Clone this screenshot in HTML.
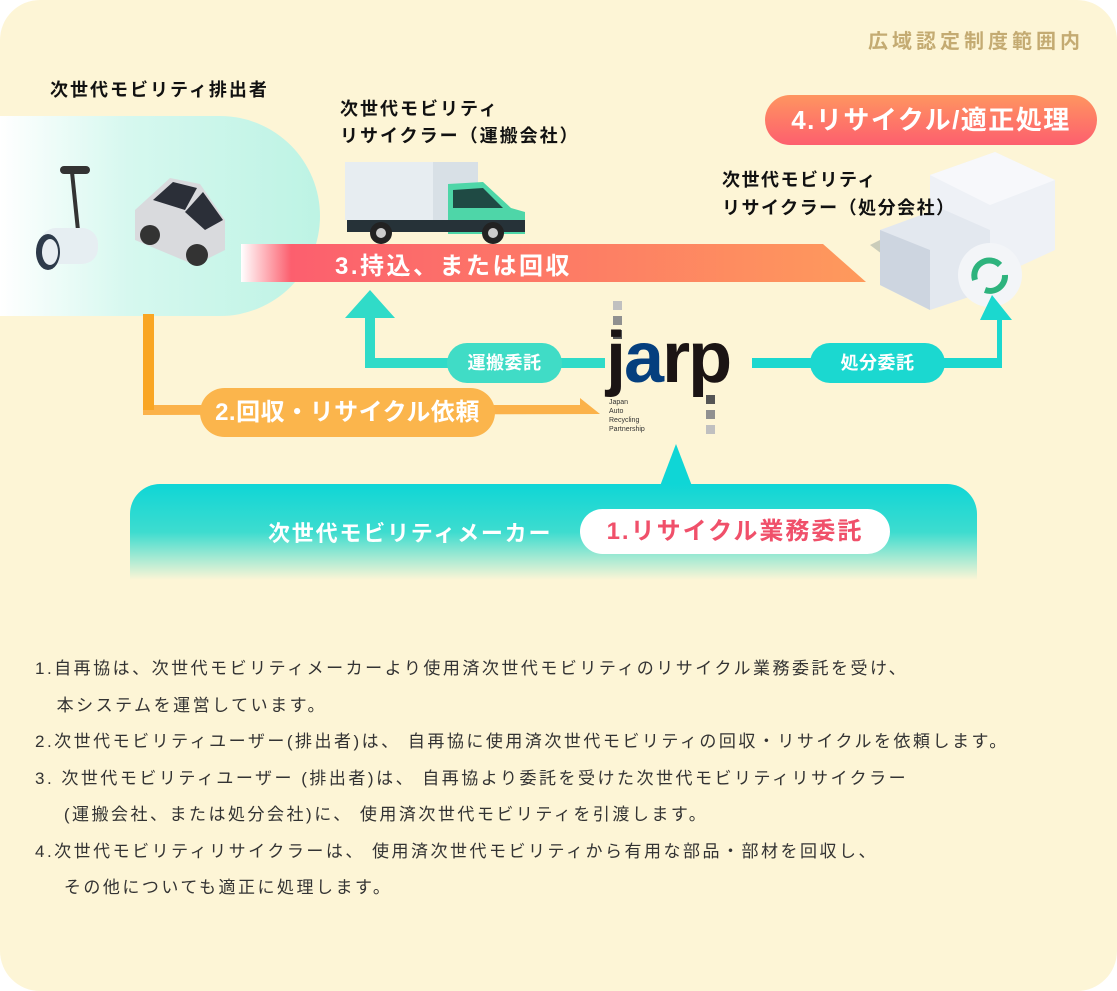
<!DOCTYPE html>
<html><head><meta charset="utf-8"><style>
*{margin:0;padding:0;box-sizing:border-box}
body{width:1117px;height:991px;background:#fff;font-family:"Liberation Sans","Noto Sans CJK JP",sans-serif;position:relative;overflow:hidden}
.a{position:absolute}
.bg{left:0;top:0;width:1117px;height:991px;background:#fdf5d6;border-radius:40px}
.b{font-weight:bold}
.pill{position:absolute;border-radius:30px;color:#fff;font-weight:bold;text-align:center;white-space:nowrap}
.notes{left:35px;top:651px;font-size:17px;color:#333;line-height:36.5px;letter-spacing:2.5px;white-space:nowrap}
</style></head><body>
<div class="a bg"></div>
<div class="a b" style="left:868px;top:25px;font-size:20px;color:#c4ab72;letter-spacing:4px">広域認定制度範囲内</div>
<div class="a b" style="left:50px;top:76px;font-size:18px;color:#111;letter-spacing:2px">次世代モビリティ排出者</div>
<div class="a" style="left:0;top:116px;width:320px;height:200px;border-radius:0 100px 100px 0;background:linear-gradient(90deg,#fff 0%,#d6f8ef 40%,#bdf3e4 100%)"></div>
<svg class="a" style="left:30px;top:160px" width="80" height="120"><rect x="30" y="6" width="30" height="8" rx="4" fill="#333"/><line x1="42" y1="12" x2="50" y2="90" stroke="#333" stroke-width="4"/><rect x="10" y="68" width="58" height="36" rx="16" fill="#e6eef2"/><ellipse cx="18" cy="92" rx="12" ry="18" fill="#2d3a4a"/><ellipse cx="20" cy="92" rx="8" ry="13" fill="#e8eef2"/></svg>
<svg class="a" style="left:125px;top:170px" width="110" height="100"><path d="M10 40 L45 8 L75 14 L100 50 L100 80 L70 95 L10 70Z" fill="#d9dadd"/><path d="M28 30 L48 12 L72 18 L60 40Z" fill="#2b2f38"/><path d="M60 42 L78 22 L98 50 L80 60Z" fill="#2b2f38"/><circle cx="25" cy="65" r="10" fill="#333"/><circle cx="72" cy="85" r="11" fill="#333"/></svg>
<div class="a b" style="left:340px;top:96px;font-size:18px;line-height:27px;color:#111;letter-spacing:2px">次世代モビリティ<br>リサイクラー（運搬会社）</div>
<svg class="a" style="left:343px;top:160px" width="195" height="86"><rect x="2" y="2" width="133" height="58" fill="#e7edf1"/><rect x="90" y="2" width="45" height="58" fill="#d8e0e6"/><path d="M105 24 L140 22 L168 48 L182 52 L182 74 L105 74Z" fill="#4ed6a8"/><path d="M110 30 L140 28 L160 48 L110 48Z" fill="#1f4a44"/><rect x="4" y="60" width="178" height="12" fill="#263238"/><circle cx="38" cy="73" r="11" fill="#222"/><circle cx="38" cy="73" r="5" fill="#ccc"/><circle cx="150" cy="73" r="11" fill="#222"/><circle cx="150" cy="73" r="5" fill="#ccc"/></svg>
<svg class="a" style="left:241px;top:244px" width="630" height="40"><defs><linearGradient id="rb" x1="0" x2="1"><stop offset="0" stop-color="#fff"/><stop offset="0.08" stop-color="#fc5f6e"/><stop offset="1" stop-color="#fe9a5c"/></linearGradient></defs><path d="M0 0 H582 L625 38 H0Z" fill="url(#rb)"/></svg>
<div class="a b" style="left:335px;top:246px;font-size:24px;color:#fff;letter-spacing:2.5px">3.持込、または回収</div>
<div class="pill" style="left:765px;top:95px;width:332px;height:50px;line-height:50px;font-size:26px;letter-spacing:1.5px;background:linear-gradient(180deg,#fe9560,#fd5f6e)">4.リサイクル/適正処理</div>
<svg class="a" style="left:860px;top:150px" width="200" height="165"><path d="M10 95 L60 70 L120 110 L70 140Z" fill="#a8b0a6" opacity=".6"/><path d="M70 25 L135 2 L195 30 L195 100 L130 130 L70 100Z" fill="#eef1f6"/><path d="M70 25 L135 2 L195 30 L130 55Z" fill="#f7f8fb"/><path d="M20 80 L80 58 L130 80 L130 140 L70 160 L20 135Z" fill="#e3e8ef"/><path d="M20 80 L70 100 L70 160 L20 135Z" fill="#cdd5e0"/><circle cx="130" cy="125" r="32" fill="#f3f5f8"/><path d="M115 130 a15 15 0 0 1 25 -15 M145 125 a15 15 0 0 1 -20 15" stroke="#2db37d" stroke-width="6" fill="none"/></svg>
<div class="a b" style="left:722px;top:166px;font-size:18px;line-height:28px;color:#111;letter-spacing:1.5px">次世代モビリティ<br>リサイクラー（処分会社）</div>
<svg class="a" style="left:340px;top:290px" width="270" height="80"><path d="M30 0 L55 28 L35 28 L35 68 L265 68 L265 78 L25 78 L25 28 L5 28Z" fill="#30dbc8"/></svg>
<div class="pill" style="left:447px;top:343px;width:115px;height:40px;line-height:40px;font-size:18px;letter-spacing:0.5px;background:#40dcc6">運搬委託</div>
<div class="a" style="left:613px;top:301px;width:9px;height:9px;background:#c0c0c0"></div>
<div class="a" style="left:613px;top:316px;width:9px;height:9px;background:#909090"></div>
<div class="a" style="left:613px;top:330px;width:9px;height:9px;background:#555"></div>
<div class="a b" style="left:606px;top:318px;font-size:72px;line-height:80px;letter-spacing:-2px;color:#1b1414">j<span style="color:#053f7e">a</span>rp</div>
<div class="a" style="left:706px;top:395px;width:9px;height:9px;background:#555"></div>
<div class="a" style="left:706px;top:410px;width:9px;height:9px;background:#909090"></div>
<div class="a" style="left:706px;top:425px;width:9px;height:9px;background:#c0c0c0"></div>
<div class="a" style="left:609px;top:398px;font-size:7px;line-height:9px;color:#333">Japan<br>Auto<br>Recycling<br>Partnership</div>
<svg class="a" style="left:750px;top:292px" width="270" height="80"><path d="M2 66 L247 66 L247 28 L230 28 L242 3 L262 28 L252 28 L252 76 L2 76Z" fill="#1bd8cf"/></svg>
<div class="pill" style="left:810px;top:343px;width:135px;height:40px;line-height:40px;font-size:18px;letter-spacing:0.5px;background:#1bd8d0">処分委託</div>
<svg class="a" style="left:140px;top:314px" width="465" height="110"><path d="M3 0 H14 V91 H440 L440 84 L460 100 L3 101Z" fill="#fbb24a"/><rect x="3" y="0" width="11" height="96" fill="#f9a623"/></svg>
<div class="pill" style="left:200px;top:388px;width:295px;height:49px;line-height:49px;font-size:24px;letter-spacing:0.5px;background:#fbb54c">2.回収・リサイクル依頼</div>
<svg class="a" style="left:658px;top:444px" width="36" height="42"><path d="M18 0 L34 42 H2Z" fill="#0fd6d6"/></svg>
<div class="a" style="left:130px;top:484px;width:847px;height:96px;border-radius:30px 30px 0 0;background:linear-gradient(180deg,#0fd6d6 0%,#3ddccf 50%,#fdf5d6 100%)"></div>
<div class="a b" style="left:268px;top:516px;font-size:22px;color:#fff;letter-spacing:1.8px">次世代モビリティメーカー</div>
<div class="pill" style="left:580px;top:509px;width:310px;height:45px;line-height:45px;font-size:24px;color:#f0506a;background:#fff;letter-spacing:2px">1.リサイクル業務委託</div>
<div class="a notes">1.自再協は、次世代モビリティメーカーより使用済次世代モビリティのリサイクル業務委託を受け、<br>&nbsp;&nbsp;&nbsp;本システムを運営しています。<br>2.次世代モビリティユーザー(排出者)は、 自再協に使用済次世代モビリティの回収・リサイクルを依頼します。<br>3. 次世代モビリティユーザー (排出者)は、 自再協より委託を受けた次世代モビリティリサイクラー<br>&nbsp;&nbsp;&nbsp;&nbsp;(運搬会社、または処分会社)に、 使用済次世代モビリティを引渡します。<br>4.次世代モビリティリサイクラーは、 使用済次世代モビリティから有用な部品・部材を回収し、<br>&nbsp;&nbsp;&nbsp;&nbsp;その他についても適正に処理します。</div>
</body></html>
